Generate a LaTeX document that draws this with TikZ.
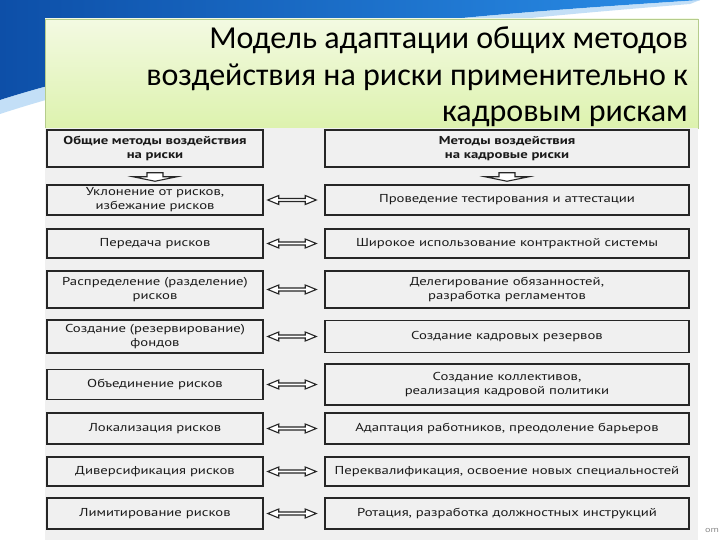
\documentclass[tikz,border=0pt]{standalone}
\usepackage{fontspec}
\setmainfont{Carlito}
\newfontfamily\dfont[FakeStretch=1.28]{PT Sans}
\usetikzlibrary{calc}
\definecolor{blueA}{HTML}{0D4FA8}
\definecolor{blueB}{HTML}{2A8EE8}
\definecolor{lightband}{HTML}{9CCBF2}
\definecolor{titletop}{HTML}{F3FAE2}
\definecolor{titlebot}{HTML}{DDF2AE}
\definecolor{titleedge}{HTML}{B5CC8C}
\definecolor{scanbg}{HTML}{F0F0F0}
\definecolor{ink}{HTML}{1A1A1A}
\tikzset{
  dbox/.style={draw=black!85, line width=1.5pt, inner sep=0pt, align=center,
    text=ink, font=\dfont\fontsize{11.5}{14}\selectfont},
  lbox/.style={dbox, minimum width=216pt},
  rbox/.style={dbox, minimum width=364pt},
  hollow/.style={draw=black!85, line width=1.1pt, fill=white, line join=miter},
  titletext/.style={anchor=base east, inner sep=0pt, text=black,
    font=\fontsize{32}{38}\selectfont}
}
\newcommand{\dblarrow}[2]{%
  \draw[hollow] ($(#1.east)+(4,0)$) -- ($(#1.east)+(15,-4.5)$) -- ($(#1.east)+(15,-1.5)$)
    -- ($(#2.west)+(-19,-1.5)$) -- ($(#2.west)+(-19,-4.5)$) -- ($(#2.west)+(-8,0)$)
    -- ($(#2.west)+(-19,4.5)$) -- ($(#2.west)+(-19,1.5)$) -- ($(#1.east)+(15,1.5)$)
    -- ($(#1.east)+(15,4.5)$) -- cycle;}
\newcommand{\downarrowshape}[2]{%
  \draw[hollow] ($(#1.south)+(-8,5)$) -- ($(#1.south)+(8,5)$) -- ($(#1.south)+(8,9)$)
    -- ($(#1.south)+(22,9)$) -- ($(#2.north)+(0,-3)$) -- ($(#1.south)+(-22,9)$)
    -- ($(#1.south)+(-8,9)$) -- cycle;}
\begin{document}
\begin{tikzpicture}[x=1pt,y=-1pt]
\useasboundingbox (0,0) rectangle (720,540);
\fill[white] (0,0) rectangle (720,540);
% blue swoosh
\shade[left color=blueA, right color=blueB]
  (0,0) -- (700,0) .. controls (520,12) and (220,30) .. (0,100) -- cycle;
\fill[lightband, opacity=0.6]
  (0,100) .. controls (220,30) and (520,12) .. (700,0) -- (690,4)
  .. controls (520,18) and (220,42) .. (0,114) -- cycle;
% title box
\shade[top color=titletop, bottom color=titlebot, draw=titleedge, line width=0.6pt]
  (45,19) rectangle (698,128);
\node[titletext] (t1) at (688,49) {Модель адаптации общих методов};
\node[titletext] (t2) at (688,86) {воздействия на риски применительно к};
\node[titletext] (t3) at (688,122) {кадровым рискам};
% scanned area
\fill[scanbg] (45,128) rectangle (698,540);
\node[text=black!45, font=\dfont\fontsize{8}{9}\selectfont] (om) at (712,530) {om};
% headers
\node[lbox, minimum height=37pt] (lh) at (155,148.5) {\bfseries Общие методы воздействия\\\bfseries на риски};
\node[rbox, minimum height=37pt] (rh) at (507,148.5) {\bfseries Методы воздействия\\\bfseries на кадровые риски};
% rows
\node[lbox, minimum height=30pt] (l1) at (155,200) {Уклонение от рисков,\\избежание рисков};
\node[rbox, minimum height=30pt] (r1) at (507,200) {Проведение тестирования и аттестации};
\node[lbox, minimum height=29pt] (l2) at (155,243.5) {Передача рисков};
\node[rbox, minimum height=29pt] (r2) at (507,243.5) {Широкое использование контрактной системы};
\node[lbox, minimum height=37pt] (l3) at (155,289.5) {Распределение (разделение)\\рисков};
\node[rbox, minimum height=37pt] (r3) at (507,289.5) {Делегирование обязанностей,\\разработка регламентов};
\node[lbox, minimum height=33pt] (l4) at (155,336.5) {Создание (резервирование)\\фондов};
\node[rbox, minimum height=32pt] (r4) at (507,336.5) {Создание кадровых резервов};
\node[lbox, minimum height=30pt] (l5) at (155,384.5) {Объединение рисков};
\node[rbox, minimum height=41pt] (r5) at (507,384.5) {Создание коллективов,\\реализация кадровой политики};
\node[lbox, minimum height=31pt] (l6) at (155,428.5) {Локализация рисков};
\node[rbox, minimum height=31pt] (r6) at (507,428.5) {Адаптация работников, преодоление барьеров};
\node[lbox, minimum height=29pt] (l7) at (155,471.5) {Диверсификация рисков};
\node[rbox, minimum height=29pt] (r7) at (507,471.5) {Переквалификация, освоение новых специальностей};
\node[lbox, minimum height=31pt] (l8) at (155,513.5) {Лимитирование рисков};
\node[rbox, minimum height=31pt] (r8) at (507,513.5) {Ротация, разработка должностных инструкций};
% arrows
\downarrowshape{lh}{l1}
\downarrowshape{rh}{r1}
\foreach \i in {1,...,8} {\dblarrow{l\i}{r\i}}
\end{tikzpicture}
\end{document}
